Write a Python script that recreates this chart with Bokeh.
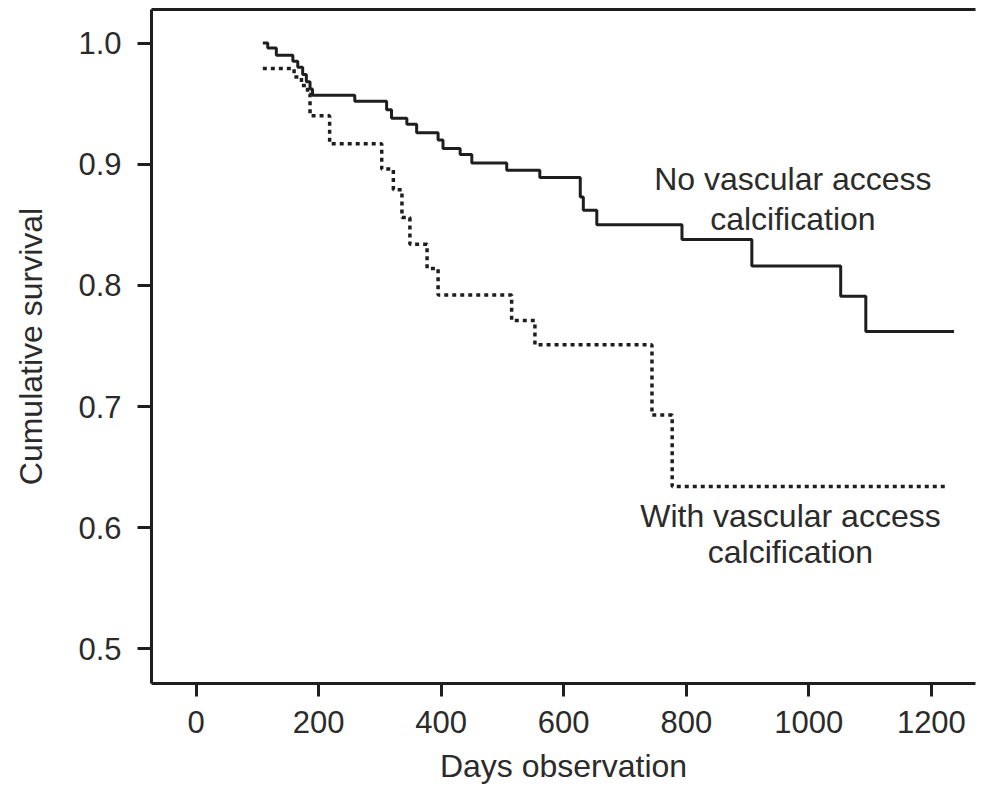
from bokeh.plotting import figure
from bokeh.models import ColumnDataSource, LinearAxis, FixedTicker, NumeralTickFormatter, Range1d
from bokeh.core.properties import value
from bokeh.embed import file_html
from bokeh.resources import INLINE

# ---- data ----
no_calc_days = [109, 117, 131, 158, 166, 174, 180, 186, 190, 259, 311, 319, 344, 360,
                395, 403, 431, 450, 507, 561, 627, 632, 654, 793, 907, 1052, 1093, 1237]
no_calc_surv = [1.000, 0.996, 0.990, 0.985, 0.980, 0.974, 0.968, 0.962, 0.957, 0.952,
                0.945, 0.938, 0.933, 0.926, 0.920, 0.913, 0.908, 0.901, 0.895, 0.889,
                0.873, 0.862, 0.850, 0.838, 0.816, 0.791, 0.762, 0.762]

with_calc_days = [109, 160, 172, 182, 186, 218, 303, 322, 336, 349, 377, 395, 515, 553,
                  744, 777, 1224]
with_calc_surv = [0.979, 0.972, 0.965, 0.958, 0.940, 0.917, 0.896, 0.879, 0.856, 0.834,
                  0.814, 0.792, 0.771, 0.751, 0.693, 0.634, 0.634]

x_ticks = [0, 200, 400, 600, 800, 1000, 1200]
y_ticks = [0.5, 0.6, 0.7, 0.8, 0.9, 1.0]

label_texts = ["No vascular access", "calcification", "With vascular access", "calcification"]
label_days = [974, 974, 970, 970]
label_surv = [0.888, 0.855, 0.610, 0.580]

# ---- styling ----
FONT = "Liberation Sans"
INK = "#1e1e1e"
TEXT = "#2b2b2b"

p = figure(width=987, height=786, output_backend="svg", toolbar_location=None,
           x_range=Range1d(-72.7, 1272), y_range=Range1d(0.4715, 1.0277),
           min_border_left=151, min_border_right=12, min_border_top=9, min_border_bottom=103)
p.background_fill_color = "white"
p.border_fill_color = "white"
p.outline_line_color = None
p.xgrid.visible = False
p.ygrid.visible = False

p.step(no_calc_days, no_calc_surv, mode="after", line_color=INK, line_width=3)
p.step(with_calc_days, with_calc_surv, mode="after", line_color=INK, line_width=3.5,
       line_dash="4 4")

src = ColumnDataSource(dict(x=label_days, y=label_surv, t=label_texts))
p.text(x="x", y="y", text="t", source=src, text_align="center", text_baseline="middle",
       text_font=value(FONT), text_font_size=value("32px"), text_color=TEXT)

for ax in (p.xaxis[0], p.yaxis[0]):
    ax.axis_line_width = 3
    ax.axis_line_color = INK
    ax.major_tick_line_width = 3
    ax.major_tick_line_color = INK
    ax.major_tick_in = 0
    ax.minor_tick_line_color = None
    ax.major_label_text_font = FONT
    ax.major_label_text_font_size = "31px"
    ax.major_label_text_color = TEXT
    ax.axis_label_text_font = FONT
    ax.axis_label_text_font_size = "32px"
    ax.axis_label_text_font_style = "normal"
    ax.axis_label_text_color = TEXT

p.xaxis.ticker = FixedTicker(ticks=x_ticks)
p.yaxis.ticker = FixedTicker(ticks=y_ticks)
p.yaxis.formatter = NumeralTickFormatter(format="0.0")
p.xaxis.axis_label = "Days observation"
p.yaxis.axis_label = "Cumulative survival"
p.xaxis.major_tick_out = 13
p.xaxis.major_label_standoff = 14
p.xaxis.axis_label_standoff = 12
p.yaxis.major_tick_out = 14
p.yaxis.major_label_standoff = 16
p.yaxis.axis_label_standoff = 26

top = LinearAxis(ticker=FixedTicker(ticks=[]), axis_line_width=3, axis_line_color=INK,
                 major_tick_line_color=None, minor_tick_line_color=None,
                 major_tick_out=0, minor_tick_out=0, major_label_standoff=0)
p.add_layout(top, "above")

open("out.html", "w").write(file_html(p, INLINE))
